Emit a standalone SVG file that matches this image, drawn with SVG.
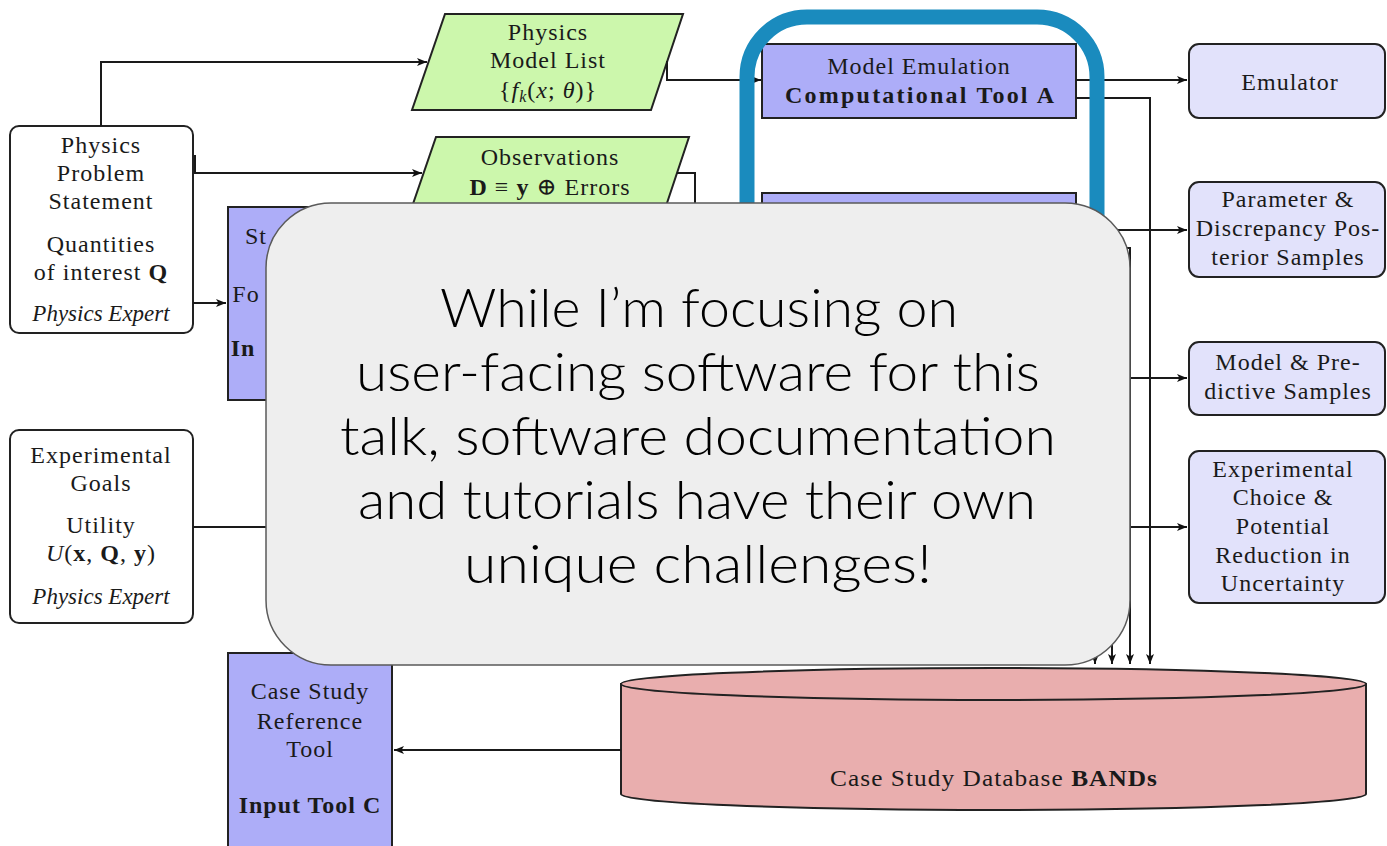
<svg xmlns="http://www.w3.org/2000/svg" width="1387" height="846" viewBox="0 0 1387 846">
  <defs>
    <marker id="arr" markerUnits="userSpaceOnUse" markerWidth="12" markerHeight="10" refX="10" refY="4" orient="auto">
      <path d="M0,0 L10,4 L0,8 L2.5,4 Z" fill="#111"/>
    </marker>
    <style>
      .t { font-family: "Liberation Serif", "DejaVu Serif", serif; font-size: 24px; letter-spacing: 1px; fill: #1a1a1a; text-anchor: middle; }
      .b { font-weight: bold; }
      .i { font-style: italic; }
      .em { font-size: 23px; letter-spacing: 0; }
      .box { stroke: #222; stroke-width: 2; }
      .white { fill: #ffffff; }
      .lav { fill: #e2e2fb; }
      .purple { fill: #adadf8; }
      .green { fill: #ccf7ac; }
      .conn path { fill: none; stroke: #1a1a1a; stroke-width: 2; }
      .big { font-family: "Lato", "Open Sans", sans-serif; font-weight: 300; font-size: 53px; fill: #000; text-anchor: middle; }
    </style>
  </defs>

  <rect width="1387" height="846" fill="#ffffff"/>

  <!-- inputs on the left -->
  <g id="physics-problem">
    <rect class="box white" x="10" y="126" width="183" height="207" rx="9"/>
    <text class="t" x="101" y="153">Physics</text>
    <text class="t" x="101" y="181">Problem</text>
    <text class="t" x="101" y="209">Statement</text>
    <text class="t" x="101" y="252">Quantities</text>
    <text class="t" x="101" y="280">of interest <tspan class="b">Q</tspan></text>
    <text class="t i em" x="101" y="321">Physics Expert</text>
  </g>

  <g id="experimental-goals">
    <rect class="box white" x="10" y="430" width="183" height="193" rx="9"/>
    <text class="t" x="101" y="463">Experimental</text>
    <text class="t" x="101" y="491">Goals</text>
    <text class="t" x="101" y="533">Utility</text>
    <text class="t" x="101" y="561"><tspan class="i">U</tspan>(<tspan class="b">x</tspan>, <tspan class="b">Q</tspan>, <tspan class="b">y</tspan>)</text>
    <text class="t i em" x="101" y="604">Physics Expert</text>
  </g>

  <g id="model-list">
    <polygon class="box green" points="445,14 683,14 651,110 412,110"/>
    <text class="t" x="548" y="40">Physics</text>
    <text class="t" x="548" y="68">Model List</text>
    <text class="t" x="548" y="98">{<tspan class="i">f</tspan><tspan class="i" font-size="16" dy="4">k</tspan><tspan dy="-4">(</tspan><tspan class="i">x</tspan>; <tspan class="i">θ</tspan>)}</text>
  </g>

  <g id="observations">
    <polygon class="box green" points="436,137 689,137 657,233 403,233"/>
    <text class="t" x="550" y="165">Observations</text>
    <text class="t" x="550" y="195"><tspan class="b">D</tspan> ≡ <tspan class="b">y</tspan> ⊕ Errors</text>
  </g>

  <g id="input-tool-b">
    <rect class="box purple" x="228" y="207" width="220" height="193"/>
    <text class="t" x="256" y="244" text-anchor="start">St</text>
    <text class="t" x="246" y="302" text-anchor="start">Fo</text>
    <text class="t b" x="243" y="356" text-anchor="start">In</text>
  </g>

  <g id="case-study-tool">
    <rect class="box purple" x="228" y="653" width="164" height="210"/>
    <text class="t" x="310" y="699">Case Study</text>
    <text class="t" x="310" y="729">Reference</text>
    <text class="t" x="310" y="757">Tool</text>
    <text class="t b" x="310" y="813">Input Tool C</text>
  </g>

  <!-- computational tools -->
  <g id="model-emulation">
    <rect class="box purple" x="762" y="44" width="314" height="74"/>
    <text class="t" x="919" y="74">Model Emulation</text>
    <text class="t b" x="920" y="103" textLength="270" lengthAdjust="spacing">Computational Tool A</text>
  </g>

  <g id="tool-second">
    <rect class="box purple" x="762" y="193" width="314" height="320"/>
  </g>

  <!-- outputs on the right -->
  <g id="emulator">
    <rect class="box lav" x="1189" y="44" width="196" height="74" rx="10"/>
    <text class="t" x="1290" y="90">Emulator</text>
  </g>

  <g id="posterior-samples">
    <rect class="box lav" x="1189" y="182" width="196" height="95" rx="10"/>
    <text class="t" x="1288" y="207">Parameter &amp;</text>
    <text class="t" x="1288" y="236">Discrepancy Pos-</text>
    <text class="t" x="1288" y="265">terior Samples</text>
  </g>

  <g id="predictive-samples">
    <rect class="box lav" x="1189" y="342" width="196" height="73" rx="10"/>
    <text class="t" x="1288" y="370">Model &amp; Pre-</text>
    <text class="t" x="1288" y="399">dictive Samples</text>
  </g>

  <g id="experimental-choice">
    <rect class="box lav" x="1189" y="451" width="196" height="152" rx="10"/>
    <text class="t" x="1283" y="477">Experimental</text>
    <text class="t" x="1283" y="505">Choice &amp;</text>
    <text class="t" x="1283" y="534">Potential</text>
    <text class="t" x="1283" y="563">Reduction in</text>
    <text class="t" x="1283" y="591">Uncertainty</text>
  </g>

  <g id="database">
    <path class="box" fill="#e9aeae" d="M621,684 V794 A372.5,16 0 0 0 1366,794 V684 Z"/>
    <ellipse class="box" fill="#e9aeae" cx="993.5" cy="684" rx="372.5" ry="16"/>
    <text class="t" x="994" y="786" font-size="23" letter-spacing="0" textLength="328" lengthAdjust="spacingAndGlyphs">Case Study Database <tspan class="b">BANDs</tspan></text>
  </g>

  <!-- connectors -->
  <g id="connectors" class="conn">
    <path d="M101,126 V62 H427" marker-end="url(#arr)"/>
    <path d="M195,155 V173 H422" marker-end="url(#arr)"/>
    <path d="M193,303 H226" marker-end="url(#arr)"/>
    <path d="M193,527 H320"/>
    <path d="M666,62 H667 V80 H761" marker-end="url(#arr)"/>
    <path d="M677,173 H695 V240"/>
    <path d="M1076,80 H1187" marker-end="url(#arr)"/>
    <path d="M1076,98 H1150 V664" marker-end="url(#arr)"/>
    <path d="M1000,230 H1187" marker-end="url(#arr)"/>
    <path d="M1000,248 H1130 V664" marker-end="url(#arr)"/>
    <path d="M1130,378 H1187" marker-end="url(#arr)"/>
    <path d="M1130,527 H1187" marker-end="url(#arr)"/>
    <path d="M1095,560 V664" marker-end="url(#arr)"/>
    <path d="M1112,560 V664" marker-end="url(#arr)"/>
    <path d="M621,750 H394" marker-end="url(#arr)"/>
  </g>

  <!-- highlight frame around the computational tools -->
  <g id="highlight">
    <rect x="747" y="17" width="350" height="600" rx="60" fill="none" stroke="#1a8bbe" stroke-width="15"/>
  </g>

  <!-- callout panel -->
  <g id="callout">
    <rect x="266" y="203" width="864" height="462" rx="65" fill="#eeeeee" stroke="#5a5a5a" stroke-width="1.5"/>
    <text class="big" x="699" y="327" textLength="518" lengthAdjust="spacingAndGlyphs">While I’m focusing on</text>
    <text class="big" x="698" y="391" textLength="684" lengthAdjust="spacingAndGlyphs">user-facing software for this</text>
    <text class="big" x="698" y="455" textLength="716" lengthAdjust="spacingAndGlyphs">talk, software documentation</text>
    <text class="big" x="697" y="519" textLength="678" lengthAdjust="spacingAndGlyphs">and tutorials have their own</text>
    <text class="big" x="698" y="583" textLength="468" lengthAdjust="spacingAndGlyphs">unique challenges!</text>
  </g>
</svg>
